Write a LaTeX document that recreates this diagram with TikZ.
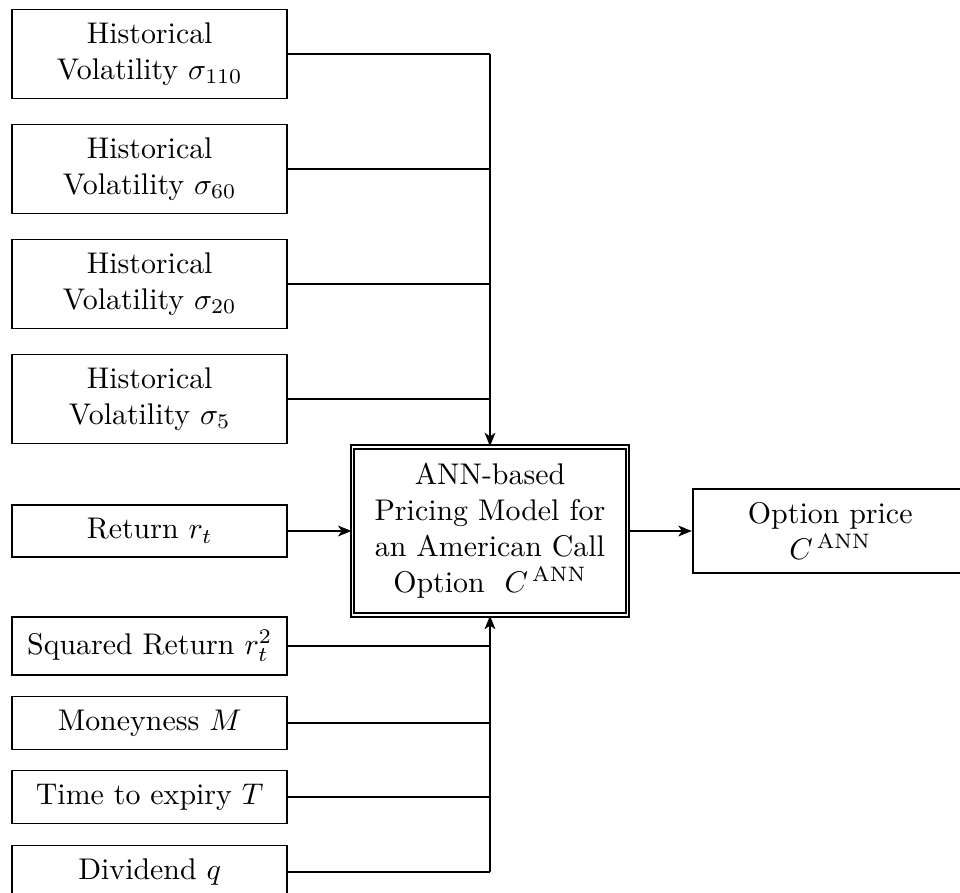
\documentclass[tikz,border=0pt]{standalone}
\usepackage{amsmath}
\usepackage{tikz}
\usetikzlibrary{arrows.meta}

\begin{document}
\begin{tikzpicture}[>={Stealth[length=4.5pt,width=3.6pt,inset=1.2pt]}, semithick,
		inbox/.style={draw, text width=3cm, inner ysep=4.4pt, align=center},
		modelbox/.style={draw, double, text width=3cm, inner ysep=5.5pt, align=center}]
		\useasboundingbox (-5.76,-4.244) rectangle (5.525,6.242);
		
		\node[modelbox] (model) at (0,0) {ANN-based\\ Pricing Model for\\ an American Call\\ Option \ $C^{\,\mathrm{ANN}}$};
		\node[inbox] (price) at (4,0) {Option price\\ $C^{\,\mathrm{ANN}}$};
		\node[inbox] (ret) at (-4,0) {Return $r_t$};
		\foreach \n/\y/\s in {v110/5.607/110, v60/4.255/60, v20/2.903/20, v5/1.552/5}
			\node[inbox] (\n) at (-4,\y) {Historical Volatility $\sigma_{\s}$};
		\foreach \n/\y/\txt in {sq/-1.352/{Squared Return $r_t^2$}, mon/-2.257/{Moneyness $M$}, tte/-3.127/{Time to expiry $T$}, div/-4.008/{Dividend $q$}}
			\node[inbox] (\n) at (-4,\y) {\txt};
		
		\foreach \n in {v110, v60, v20, v5, sq, mon, tte, div}
			\draw (\n.east) -- (\n.east -| model.north);
		\draw [->] (v110.east -| model.north) -- (model.north);
		\draw [->] (div.east -| model.south) -- (model.south);
		\draw [->] (ret) -- (model);
		\draw [->] (model) -- (price);
	\end{tikzpicture}
\end{document}
